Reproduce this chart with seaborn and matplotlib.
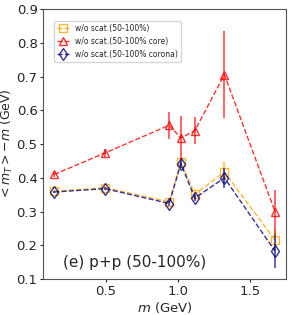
import numpy as np
import pandas as pd
import matplotlib
matplotlib.use('Agg')
import matplotlib.pyplot as plt
import seaborn as sns

sns.set_style('ticks')

# hadron masses (GeV): pi, K, p, phi, Lambda, Xi, Omega
mass = [0.140, 0.494, 0.938, 1.019, 1.116, 1.321, 1.672]

all_val = [0.360, 0.371, 0.329, 0.447, 0.352, 0.417, 0.216]
all_err = [0.004, 0.005, 0.006, 0.012, 0.008, 0.030, 0.030]

core_val = [0.410, 0.474, 0.556, 0.518, 0.540, 0.706, 0.300]
core_err = [0.006, 0.012, 0.040, 0.065, 0.040, 0.130, 0.065]

corona_val = [0.358, 0.368, 0.324, 0.442, 0.340, 0.400, 0.183]
corona_err = [0.004, 0.005, 0.006, 0.012, 0.008, 0.030, 0.050]

labels = ['w/o scat.(50-100%)', 'w/o scat.(50-100% core)', 'w/o scat.(50-100% corona)']

series = [
    (all_val, all_err, 'orange', 's', labels[0]),
    (core_val, core_err, 'red', '^', labels[1]),
    (corona_val, corona_err, 'navy', 'd', labels[2]),
]

fig = plt.figure(figsize=(2.91, 3.15), dpi=100)
ax = fig.add_axes([0.148, 0.114, 0.835, 0.857])

for vals, errs, col, mk, lab in series:
    df = pd.DataFrame({'m': mass, 'y': vals})
    sns.lineplot(data=df, x='m', y='y', ax=ax, color=col, marker=mk,
                 linestyle='--', lw=1.0, ms=6, mfc='none', mec=col,
                 mew=1.0, alpha=0.8, label=lab)
    ax.errorbar(mass, vals, yerr=errs, fmt='none', ecolor=col,
                elinewidth=1.2, alpha=0.7)

ax.set_ylim(0.1, 0.9)
ax.set_xticks([0.5, 1.0, 1.5])
ax.set_yticks(np.arange(0.1, 0.91, 0.1))
ax.tick_params(axis='y', labelsize=9.5, length=2.5, pad=1.5)
ax.tick_params(axis='x', labelsize=9.5, length=2.5, pad=2)
ax.set_xlabel('$m$ (GeV)', fontsize=9.5, labelpad=1)
ax.set_ylabel('$<m_T> - m$ (GeV)', fontsize=9, va='center')
ax.yaxis.set_label_coords(-0.148, 0.5)
for s in ax.spines.values():
    s.set_color('#555555')

ax.text(0.08, 0.06, '(e) p+p (50-100%)', transform=ax.transAxes,
        fontsize=11, va='center', ha='left')
ax.legend(loc='upper left', fontsize=5.5, frameon=True,
          bbox_to_anchor=(0.03, 0.97), handlelength=1.5)

fig.savefig('out.png', dpi=100)
